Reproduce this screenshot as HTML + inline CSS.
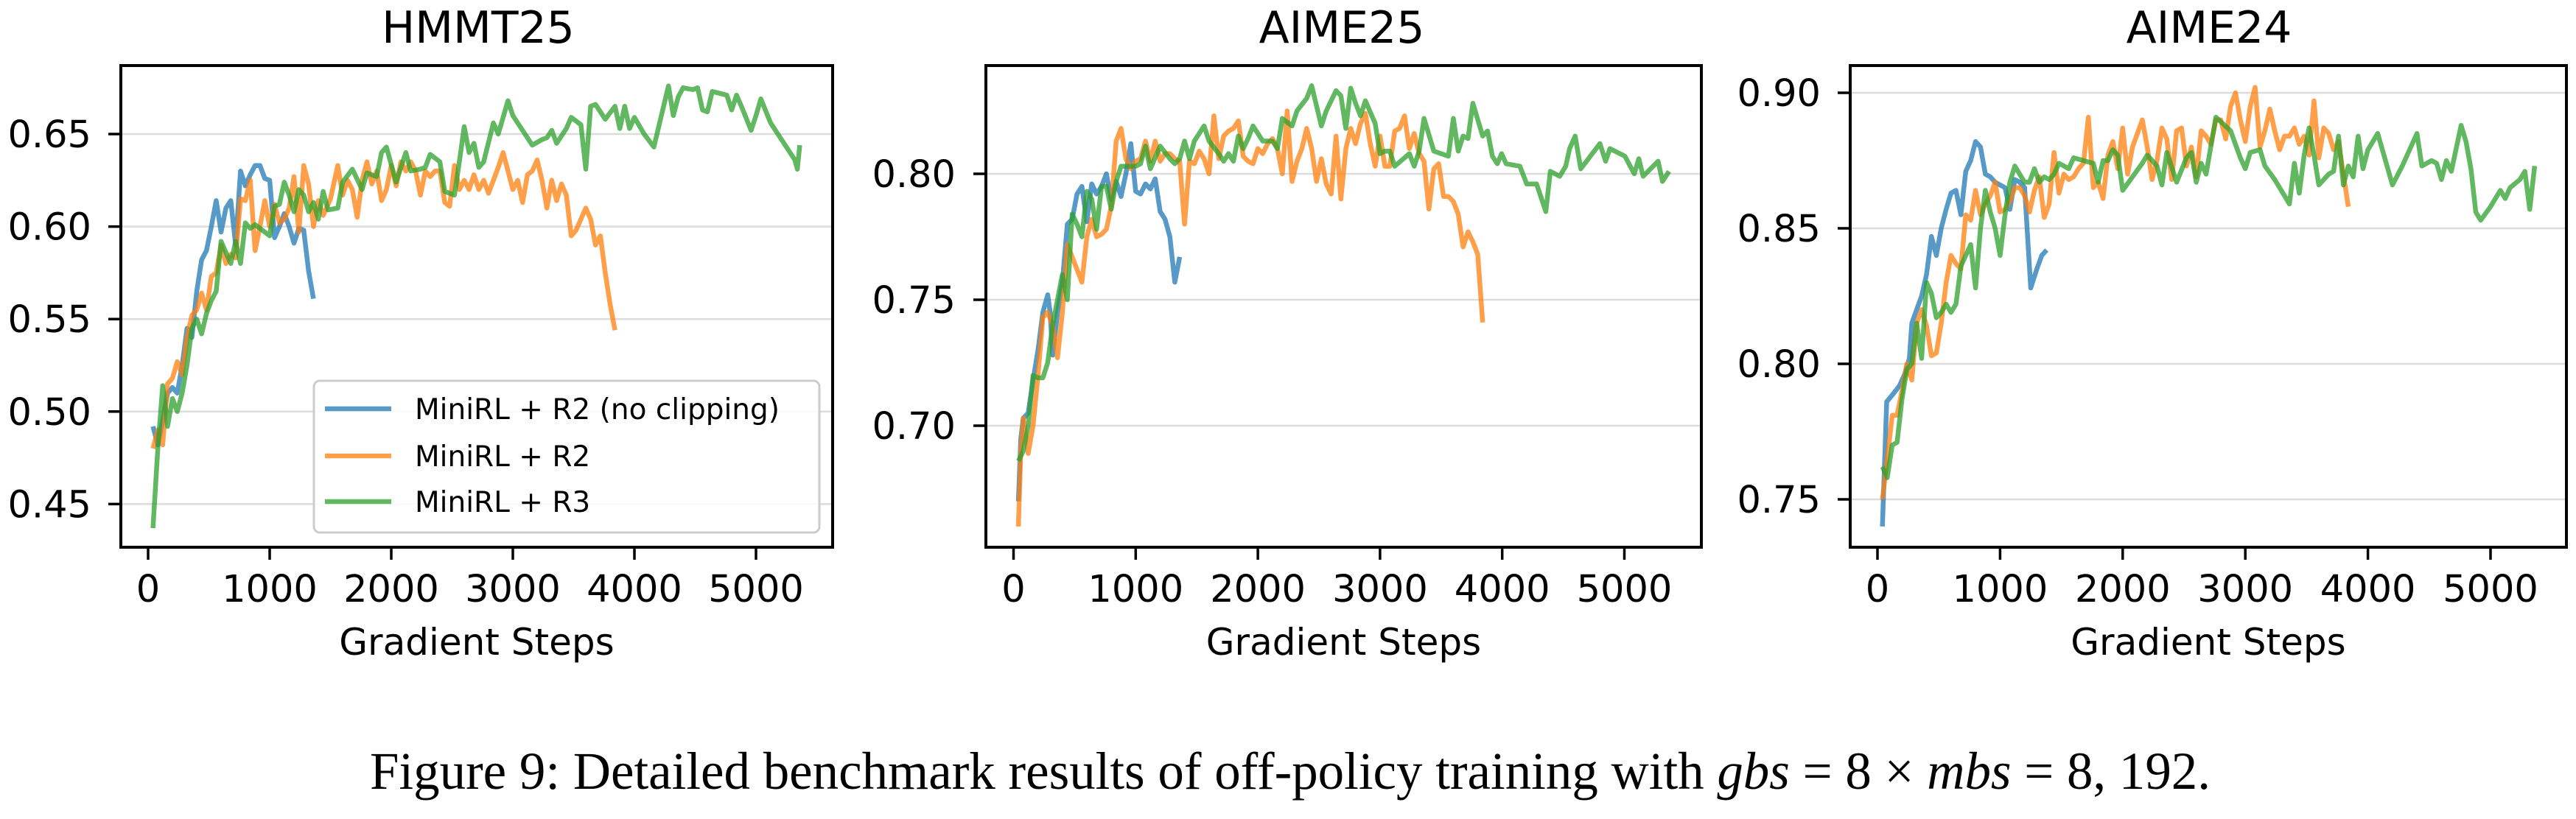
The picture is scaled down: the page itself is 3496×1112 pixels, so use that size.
<!DOCTYPE html>
<html><head><meta charset="utf-8"><style>
html,body{margin:0;padding:0;background:#fff;}
svg{display:block;}
text{font-family:"DejaVu Sans","Liberation Sans",sans-serif;fill:#000;}
</style></head>
<body>
<svg id="fig" width="3496" height="1112" viewBox="0 0 3496 1112" xmlns="http://www.w3.org/2000/svg">
<text x="502" y="1071" textLength="2498" lengthAdjust="spacingAndGlyphs" style="font-family:'Liberation Serif','DejaVu Serif',serif;font-size:72px;">Figure 9: Detailed benchmark results of off-policy training with <tspan font-style="italic">gbs</tspan> = 8 × <tspan font-style="italic">mbs</tspan> = 8, 192.</text>
</svg>
<script>
// ---------- DATA ----------
const panelTitles = ["HMMT25","AIME25","AIME24"];
const seriesNames = ["MiniRL + R2 (no clipping)","MiniRL + R2","MiniRL + R3"];
const xTicks = [0,1000,2000,3000,4000,5000];
const yTicks1 = [0.45,0.50,0.55,0.60,0.65];
const yTicks2 = [0.70,0.75,0.80];
const yTicks3 = [0.75,0.80,0.85,0.90];

// HMMT25
const h_blue_x = [40,80,120,160,200,240,280,320,360,400,440,480,520,560,600,640,680,720,760,800,840,880,920,960,1000,1040,1080,1120,1160,1200,1240,1280,1320,1360];
const h_blue_y = [0.492,0.482,0.495,0.51,0.513,0.51,0.525,0.545,0.54,0.565,0.582,0.587,0.6,0.614,0.597,0.61,0.614,0.59,0.63,0.622,0.628,0.633,0.633,0.626,0.625,0.594,0.6,0.607,0.6,0.591,0.599,0.598,0.576,0.561];
const h_orange_x = [40,80,120,160,200,240,280,320,360,400,440,480,520,560,600,640,680,720,760,800,840,880,920,960,1000,1040,1080,1120,1160,1200,1240,1280,1320,1360,1400,1440,1500,1560,1600,1640,1680,1720,1760,1800,1840,1880,1920,1960,2000,2040,2080,2120,2160,2200,2240,2280,2320,2360,2400,2440,2480,2520,2560,2600,2640,2680,2720,2760,2800,2840,2880,2920,2960,3000,3040,3080,3120,3160,3200,3240,3280,3320,3360,3400,3440,3480,3520,3560,3600,3640,3680,3720,3760,3800,3840];
const h_orange_y = [0.48,0.49,0.482,0.515,0.518,0.527,0.52,0.54,0.552,0.555,0.564,0.555,0.573,0.575,0.59,0.58,0.585,0.583,0.615,0.614,0.625,0.587,0.6,0.614,0.6,0.612,0.602,0.604,0.61,0.627,0.597,0.633,0.623,0.6,0.614,0.606,0.615,0.633,0.617,0.625,0.62,0.605,0.625,0.635,0.623,0.63,0.614,0.62,0.633,0.622,0.635,0.63,0.635,0.63,0.617,0.63,0.627,0.63,0.63,0.613,0.611,0.633,0.62,0.625,0.62,0.628,0.62,0.625,0.618,0.625,0.632,0.64,0.63,0.62,0.625,0.613,0.628,0.63,0.636,0.625,0.61,0.625,0.614,0.623,0.617,0.595,0.598,0.604,0.61,0.604,0.59,0.595,0.575,0.558,0.544];
const h_green_x = [40,80,120,160,200,240,280,320,360,400,440,480,520,560,600,640,680,720,760,800,840,880,920,960,1000,1040,1080,1120,1160,1200,1240,1280,1320,1360,1400,1440,1480,1560,1600,1680,1760,1800,1880,1920,1960,2040,2120,2160,2240,2280,2320,2400,2440,2520,2560,2600,2640,2680,2720,2760,2840,2880,2960,3000,3080,3160,3240,3280,3320,3360,3440,3480,3560,3600,3640,3680,3760,3840,3880,3920,3960,4000,4080,4160,4280,4320,4360,4400,4480,4520,4560,4600,4640,4760,4800,4840,4880,4960,5000,5040,5120,5200,5280,5320,5340,5360];
const h_green_y = [0.437,0.48,0.514,0.492,0.507,0.5,0.51,0.525,0.545,0.55,0.542,0.553,0.56,0.565,0.592,0.586,0.58,0.592,0.58,0.602,0.599,0.601,0.599,0.597,0.595,0.611,0.612,0.624,0.617,0.608,0.62,0.617,0.608,0.613,0.604,0.619,0.609,0.61,0.624,0.631,0.62,0.629,0.627,0.64,0.643,0.624,0.64,0.63,0.631,0.632,0.639,0.635,0.619,0.617,0.635,0.654,0.64,0.645,0.632,0.635,0.656,0.65,0.668,0.66,0.652,0.644,0.647,0.648,0.652,0.645,0.653,0.659,0.655,0.631,0.665,0.666,0.658,0.665,0.653,0.665,0.653,0.659,0.65,0.643,0.676,0.66,0.67,0.675,0.674,0.675,0.663,0.662,0.673,0.671,0.663,0.671,0.665,0.652,0.66,0.669,0.656,0.648,0.64,0.636,0.631,0.644];

// AIME25
const a5_blue_x = [40,60,80,120,160,200,240,280,300,320,360,400,440,480,520,560,600,640,680,720,760,800,840,880,920,960,1000,1040,1080,1120,1160,1200,1240,1280,1320,1360];
const a5_blue_y = [0.67,0.695,0.703,0.705,0.718,0.73,0.745,0.752,0.745,0.728,0.745,0.757,0.78,0.782,0.792,0.795,0.781,0.796,0.792,0.795,0.8,0.79,0.797,0.791,0.8,0.812,0.793,0.792,0.796,0.794,0.798,0.785,0.782,0.775,0.757,0.767];
const a5_orange_x = [40,60,80,120,160,200,240,280,320,360,400,440,480,520,560,600,640,680,720,760,800,840,880,920,960,1000,1040,1080,1120,1160,1200,1240,1280,1320,1360,1400,1440,1480,1520,1560,1600,1640,1680,1720,1760,1800,1840,1880,1920,1960,2000,2040,2080,2120,2160,2200,2240,2280,2320,2360,2400,2440,2480,2520,2560,2600,2640,2680,2720,2760,2800,2840,2880,2920,2960,3000,3040,3080,3120,3160,3200,3240,3280,3320,3360,3400,3440,3480,3520,3560,3600,3640,3680,3720,3760,3800,3840];
const a5_orange_y = [0.66,0.69,0.703,0.689,0.7,0.72,0.743,0.745,0.74,0.727,0.745,0.772,0.767,0.762,0.757,0.775,0.782,0.775,0.776,0.778,0.787,0.813,0.818,0.806,0.802,0.805,0.806,0.813,0.805,0.813,0.805,0.808,0.808,0.806,0.805,0.78,0.805,0.804,0.809,0.806,0.8,0.823,0.806,0.815,0.817,0.818,0.821,0.807,0.805,0.804,0.81,0.808,0.812,0.814,0.81,0.8,0.825,0.797,0.805,0.81,0.818,0.81,0.797,0.806,0.796,0.792,0.815,0.79,0.81,0.818,0.812,0.82,0.824,0.812,0.803,0.815,0.803,0.803,0.817,0.818,0.823,0.81,0.816,0.808,0.805,0.786,0.802,0.804,0.791,0.791,0.789,0.784,0.771,0.777,0.773,0.768,0.741];
const a5_green_x = [40,80,120,160,200,240,280,320,360,400,440,480,520,560,600,640,680,720,760,800,840,880,920,960,1000,1040,1080,1120,1200,1280,1320,1360,1400,1440,1480,1560,1600,1680,1720,1760,1800,1840,1880,1920,1960,2040,2120,2160,2200,2280,2320,2400,2440,2520,2560,2640,2680,2720,2760,2800,2840,2880,2960,3000,3040,3080,3120,3240,3280,3320,3360,3440,3560,3600,3640,3680,3720,3760,3840,3880,3920,3960,3995,4032,4145,4200,4240,4281,4357,4394,4471,4520,4552,4597,4643,4800,4846,4882,5005,5081,5118,5154,5276,5312,5366];
const a5_green_y = [0.686,0.69,0.7,0.72,0.719,0.719,0.725,0.74,0.75,0.76,0.75,0.784,0.78,0.775,0.793,0.79,0.778,0.795,0.795,0.786,0.797,0.803,0.803,0.803,0.803,0.804,0.811,0.802,0.811,0.806,0.804,0.806,0.813,0.806,0.813,0.819,0.813,0.808,0.805,0.808,0.805,0.815,0.81,0.814,0.819,0.813,0.813,0.81,0.822,0.819,0.825,0.83,0.835,0.819,0.825,0.833,0.831,0.818,0.834,0.828,0.823,0.829,0.82,0.808,0.809,0.809,0.803,0.808,0.803,0.809,0.822,0.809,0.807,0.822,0.809,0.815,0.814,0.828,0.815,0.817,0.807,0.804,0.808,0.804,0.803,0.796,0.796,0.796,0.785,0.801,0.799,0.803,0.81,0.815,0.802,0.812,0.805,0.81,0.807,0.8,0.806,0.799,0.805,0.797,0.801];

// AIME24
const a4_blue_x = [40,75,130,180,220,260,280,320,360,400,440,480,520,560,600,640,680,720,760,800,840,880,920,960,1000,1040,1080,1120,1160,1200,1250,1300,1340,1380];
const a4_blue_y = [0.74,0.786,0.789,0.792,0.796,0.802,0.815,0.82,0.825,0.833,0.847,0.84,0.85,0.857,0.863,0.864,0.855,0.871,0.875,0.882,0.88,0.87,0.869,0.867,0.866,0.865,0.857,0.868,0.867,0.865,0.828,0.835,0.84,0.842];
const a4_orange_x = [40,80,120,160,200,240,280,320,360,400,440,480,520,560,600,640,680,720,760,800,840,880,920,960,1000,1040,1080,1120,1160,1200,1240,1280,1320,1360,1400,1440,1480,1520,1560,1600,1640,1680,1720,1760,1800,1840,1880,1920,1960,2000,2040,2080,2120,2160,2200,2240,2280,2320,2360,2400,2440,2480,2520,2560,2600,2640,2680,2720,2760,2800,2840,2880,2920,2960,3000,3040,3080,3120,3160,3200,3240,3280,3320,3360,3400,3440,3480,3520,3560,3600,3640,3680,3720,3760,3800,3840];
const a4_orange_y = [0.75,0.765,0.781,0.781,0.79,0.8,0.794,0.815,0.82,0.814,0.803,0.804,0.815,0.83,0.84,0.837,0.835,0.855,0.853,0.864,0.855,0.859,0.862,0.867,0.856,0.857,0.86,0.865,0.865,0.862,0.856,0.864,0.869,0.854,0.859,0.878,0.863,0.87,0.868,0.869,0.872,0.874,0.891,0.865,0.867,0.861,0.877,0.882,0.872,0.887,0.87,0.88,0.885,0.89,0.88,0.868,0.875,0.887,0.883,0.868,0.886,0.887,0.873,0.88,0.869,0.886,0.884,0.881,0.89,0.89,0.883,0.895,0.9,0.89,0.882,0.895,0.902,0.88,0.886,0.894,0.886,0.879,0.884,0.884,0.887,0.881,0.884,0.877,0.897,0.876,0.887,0.885,0.879,0.882,0.87,0.858];
const a4_green_x = [40,80,120,160,200,240,280,320,360,400,440,480,520,560,600,640,680,720,760,800,840,880,920,960,1000,1040,1080,1120,1160,1200,1240,1280,1320,1360,1400,1440,1480,1560,1600,1680,1760,1800,1840,1880,1920,1960,2000,2080,2160,2200,2280,2320,2360,2440,2520,2560,2600,2640,2680,2760,2880,2960,3000,3040,3120,3160,3240,3360,3400,3440,3480,3520,3560,3600,3680,3720,3760,3800,3840,3880,3920,3960,4000,4080,4200,4280,4360,4400,4440,4520,4560,4600,4640,4680,4760,4800,4840,4880,4920,5000,5080,5120,5160,5240,5280,5320,5360];
const a4_green_y = [0.762,0.758,0.77,0.771,0.787,0.798,0.8,0.815,0.802,0.83,0.826,0.817,0.819,0.822,0.819,0.822,0.836,0.84,0.844,0.828,0.85,0.864,0.856,0.85,0.84,0.855,0.867,0.873,0.87,0.867,0.867,0.872,0.867,0.869,0.868,0.87,0.874,0.872,0.876,0.875,0.874,0.867,0.875,0.875,0.879,0.877,0.864,0.869,0.874,0.877,0.873,0.866,0.878,0.867,0.876,0.878,0.867,0.874,0.87,0.891,0.886,0.876,0.872,0.878,0.879,0.873,0.868,0.859,0.874,0.863,0.877,0.887,0.877,0.866,0.87,0.871,0.884,0.866,0.873,0.869,0.884,0.872,0.879,0.885,0.866,0.873,0.881,0.885,0.873,0.875,0.874,0.868,0.875,0.871,0.888,0.882,0.872,0.856,0.853,0.858,0.864,0.861,0.865,0.868,0.871,0.857,0.873];

// ---------- DRAW ----------
const NS = "http://www.w3.org/2000/svg";
const svg = document.getElementById("fig");
const colors = ["#1f77b4","#ff7f0e","#2ca02c"];
const panels = [
  {left:164,right:1130,x0:201,k:165.0,yRefV:0.65,yRefP:182,pxPer05:125.6,yTicks:yTicks1,labRight:124,titleX:649,
   series:[[h_blue_x,h_blue_y],[h_orange_x,h_orange_y],[h_green_x,h_green_y]]},
  {left:1338,right:2309,x0:1375.5,k:165.8,yRefV:0.80,yRefP:236,pxPer05:171,yTicks:yTicks2,labRight:1297,titleX:1821,
   series:[[a5_blue_x,a5_blue_y],[a5_orange_x,a5_orange_y],[a5_green_x,a5_green_y]]},
  {left:2511,right:3483,x0:2548,k:166.4,yRefV:0.90,yRefP:126,pxPer05:184,yTicks:yTicks3,labRight:2471,titleX:2998,
   series:[[a4_blue_x,a4_blue_y],[a4_orange_x,a4_orange_y],[a4_green_x,a4_green_y]]}
];
const TOP=89, BOT=743;
function mk(tag, attrs, parent){const e=document.createElementNS(NS,tag);for(const a in attrs)e.setAttribute(a,attrs[a]);(parent||svg).appendChild(e);return e;}

panels.forEach((p,pi)=>{
  const xs = v => p.x0 + v/1000*p.k;
  const ys = v => p.yRefP - (v - p.yRefV)/0.05*p.pxPer05;
  const g = mk("g",{});
  
  
  const cp = mk("clipPath",{id:"clip"+pi},g);
  mk("rect",{x:p.left,y:TOP,width:p.right-p.left,height:BOT-TOP},cp);
  // grid
  p.yTicks.forEach(t=>{
    const ln = mk("line",{x1:p.left,x2:p.right,y1:ys(t),y2:ys(t),stroke:"#dcdcdc","stroke-width":2.5},g);
    
    
    const tk = mk("line",{x1:p.left-17,x2:p.left,y1:ys(t),y2:ys(t),stroke:"#000","stroke-width":3.5},g);
    
    
    const tx = mk("text",{x:p.labRight,y:ys(t)+18,"text-anchor":"end","font-size":51},g);
    tx.textContent = t.toFixed(2);
    
    
  });
  xTicks.forEach(t=>{
    const tk = mk("line",{x1:xs(t),x2:xs(t),y1:BOT,y2:BOT+17,stroke:"#000","stroke-width":3.5},g);
    
    
    const tx = mk("text",{x:xs(t),y:817,"text-anchor":"middle","font-size":51},g);
    tx.textContent = String(t);
    
    
  });
  // series
  p.series.forEach((s,si)=>{
    const d = s[0].map((x,i)=>(i?"L":"M")+xs(x).toFixed(1)+" "+ys(s[1][i]).toFixed(1)).join(" ");
    const path = mk("path",{d:d,fill:"none",stroke:colors[si],"stroke-width":6.5,"stroke-opacity":0.75,"stroke-linejoin":"round","clip-path":"url(#clip"+pi+")"},g);
    
    
  });
  // frame
  const fr = mk("rect",{x:p.left,y:TOP,width:p.right-p.left,height:BOT-TOP,fill:"none",stroke:"#000","stroke-width":4},g);
  
  
  const ti = mk("text",{x:p.titleX,y:58,"text-anchor":"middle","font-size":60},g);
  ti.textContent = panelTitles[pi];
  
  
  const xl = mk("text",{x:(p.left+p.right)/2,y:889,"text-anchor":"middle","font-size":50},g);
  xl.textContent = "Gradient Steps";
  
  
});

// legend (panel 1)
const lg = mk("g",{});


mk("rect",{x:426,y:517,width:686,height:206,rx:8,fill:"#fff","fill-opacity":0.85,stroke:"#cccccc","stroke-width":3},lg);
const legY=[555,619,681];
seriesNames.forEach((n,i)=>{
  const h = mk("line",{x1:441,x2:531,y1:legY[i],y2:legY[i],stroke:colors[i],"stroke-width":6.5,"stroke-opacity":0.75},lg);
  
  
  const t = mk("text",{x:563,y:legY[i]+14,"font-size":39},lg);
  t.textContent = n;
  
  
});
</script>
</body></html>
